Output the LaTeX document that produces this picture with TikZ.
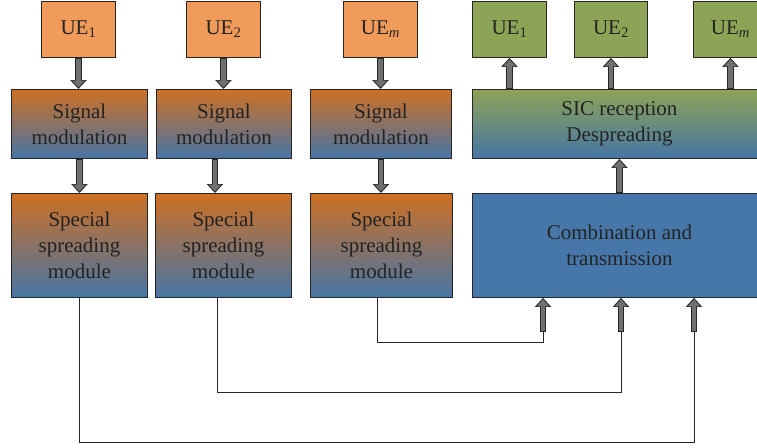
\documentclass[tikz,border=0pt]{standalone}
\usepackage{fontspec}
\setmainfont{Liberation Serif}
\usetikzlibrary{arrows.meta, calc}

\definecolor{ueorange}{RGB}{240,155,90}
\definecolor{uegreen}{RGB}{141,163,86}
\definecolor{modorange}{RGB}{206,112,36}
\definecolor{modblue}{RGB}{70,117,166}
\definecolor{combblue}{RGB}{70,119,168}
\definecolor{arrgray}{RGB}{112,112,112}
\definecolor{txt}{RGB}{35,35,35}

% fat grey arrow with a black outline
\newcommand{\fatarrow}[2]{%
  \draw[black!85, line width=6.5pt, -{Triangle[width=16pt,length=9pt]}] #1 -- #2;
  \draw[arrgray, line width=4.5pt, shorten <=1pt, shorten >=1.5pt,
        -{Triangle[width=12.5pt,length=7pt]}] #1 -- #2;}

\begin{document}
\begin{tikzpicture}[x=1pt, y=-1pt,
  box/.style={draw=black!85, line width=0.9pt, anchor=north west,
              inner sep=0pt, align=center, text=txt,
              font=\fontsize{21}{26}\selectfont},
  uein/.style={box, fill=ueorange, minimum width=74pt, minimum height=56pt},
  ueout/.style={box, fill=uegreen, minimum width=74pt, minimum height=56pt},
  modbox/.style={box, top color=modorange, bottom color=modblue},
  wire/.style={draw=black!85, line width=0.8pt}]
  \useasboundingbox (0,0) rectangle (757,447);
  \clip (0,0) rectangle (757,447);

  % transmitters
  \node[uein] (ue1) at (41,1) {UE\textsubscript{1}};
  \node[uein] (ue2) at (186,1) {UE\textsubscript{2}};
  \node[uein] (uem) at (343,1) {UE\textsubscript{\textit{m}}};

  \node[modbox, minimum width=136pt, minimum height=69pt] (sm1) at (11,89)
    {Signal\\modulation};
  \node[modbox, minimum width=135pt, minimum height=69pt] (sm2) at (156,89)
    {Signal\\modulation};
  \node[modbox, minimum width=141pt, minimum height=69pt] (sm3) at (310,89)
    {Signal\\modulation};

  \node[modbox, minimum width=136pt, minimum height=104pt] (ssm1) at (11,193)
    {Special\\spreading\\module};
  \node[modbox, minimum width=136pt, minimum height=104pt] (ssm2) at (155,193)
    {Special\\spreading\\module};
  \node[modbox, minimum width=142pt, minimum height=104pt] (ssm3) at (310,193)
    {Special\\spreading\\module};

  % receiver
  \node[ueout] (ueo1) at (472,1) {UE\textsubscript{1}};
  \node[ueout, minimum width=73pt] (ueo2) at (574,1) {UE\textsubscript{2}};
  \node[ueout] (ueom) at (693,1) {UE\textsubscript{\textit{m}}};

  \node[box, top color=uegreen, bottom color=modblue,
        minimum width=294pt, minimum height=69pt] (sic) at (472,89)
    {SIC reception\\Despreading};
  \node[box, fill=combblue, minimum width=294pt, minimum height=104pt]
    (comb) at (472,193) {Combination and\\transmission};

  % feed lines
  \coordinate (in1) at (543,332);
  \coordinate (in2) at (621,332);
  \coordinate (in3) at (694,332);
  \draw[wire] ([xshift=-4pt]ssm3.south) |- ($(in1)+(0,10)$) -- (in1);
  \draw[wire] ([xshift=-6pt]ssm2.south) |- ($(in2)+(0,60)$) -- (in2);
  \draw[wire] (ssm1.south) |- ($(in3)+(0,110)$) -- (in3);

  \coordinate (m2) at ([xshift=-9pt]sm2.south);

  \fatarrow{(ue1.south)}{(ue1.south |- sm1.north)}
  \fatarrow{(ue2.south)}{(ue2.south |- sm2.north)}
  \fatarrow{(uem.south)}{(uem.south |- sm3.north)}
  \fatarrow{(sm1.south)}{(sm1.south |- ssm1.north)}
  \fatarrow{(m2)}{(m2 |- ssm2.north)}
  \fatarrow{(sm3.south)}{(sm3.south |- ssm3.north)}

  \fatarrow{(in1)}{(in1 |- comb.south)}
  \fatarrow{(in2)}{(in2 |- comb.south)}
  \fatarrow{(in3)}{(in3 |- comb.south)}
  \fatarrow{(comb.north)}{(sic.south)}
  \fatarrow{(ueo1.south |- sic.north)}{(ueo1.south)}
  \fatarrow{(ueo2.south |- sic.north)}{(ueo2.south)}
  \fatarrow{(ueom.south |- sic.north)}{(ueom.south)}
\end{tikzpicture}
\end{document}
